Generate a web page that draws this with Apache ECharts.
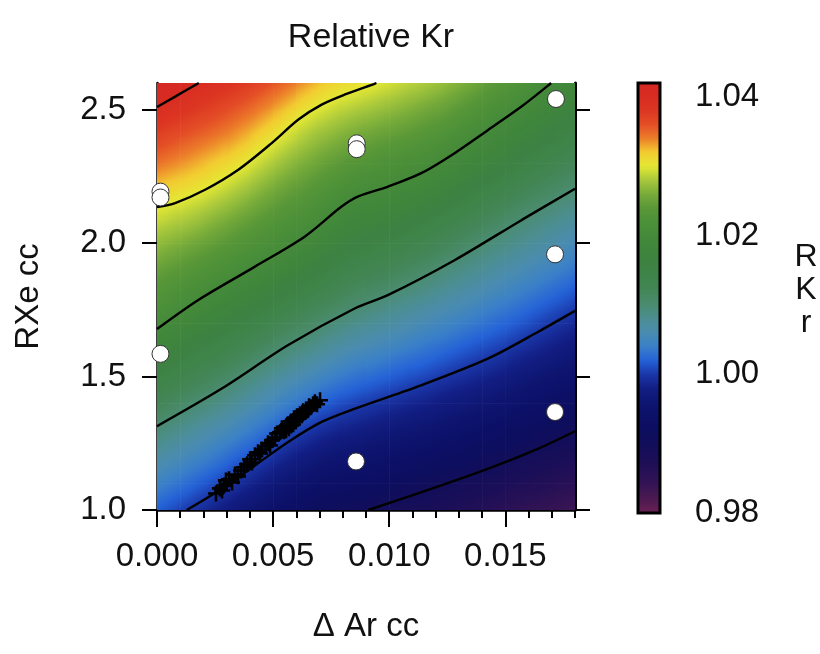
<!DOCTYPE html>
<html><head><meta charset="utf-8">
<script src="https://cdn.jsdelivr.net/npm/echarts@6.0.0/dist/echarts.min.js"></script>
<style>html,body{margin:0;padding:0;background:#fff}#c{width:820px;height:654px}</style>
</head><body><div id="c"></div>
<script>
// ---- axis ticks ----
const xTickValues = [0, 0.005, 0.010, 0.015];
const xMinorTickValues = [0,0.001,0.002,0.003,0.004,0.005,0.006,0.007,0.008,0.009,0.010,0.011,0.012,0.013,0.014,0.015,0.016,0.017,0.018];
const yTickValues = [1.0, 1.5, 2.0, 2.5];
const colorbarTicks = [0.98, 1.00, 1.02, 1.04];

// ---- field cells (centres; cell size 0.001 x 0.1) ----
const xCellCenters = [0.0005,0.0015,0.0025,0.0035,0.0045,0.0055,0.0065,0.0075,0.0085,0.0095,0.0105,0.0115,0.0125,0.0135,0.0145,0.0155,0.0165,0.0175];
const yCellCenters = [1.05,1.15,1.25,1.35,1.45,1.55,1.65,1.75,1.85,1.95,2.05,2.15,2.25,2.35,2.45,2.55];
// Relative Kr, one row per yCellCenters entry (bottom to top)
const rkrValues = [
 [1.0025,1.0011,0.9996,0.9980,0.9964,0.9947,0.9933,0.9921,0.9918,0.9910,0.9902,0.9895,0.9887,0.9880,0.9872,0.9863,0.9856,0.9849],
 [1.0051,1.0037,1.0023,1.0007,0.9991,0.9974,0.9960,0.9948,0.9943,0.9935,0.9927,0.9920,0.9912,0.9905,0.9897,0.9888,0.9880,0.9872],
 [1.0077,1.0063,1.0049,1.0034,1.0018,1.0001,0.9987,0.9975,0.9968,0.9960,0.9952,0.9945,0.9937,0.9929,0.9921,0.9912,0.9904,0.9895],
 [1.0103,1.0089,1.0076,1.0061,1.0045,1.0029,1.0014,1.0002,0.9993,0.9985,0.9977,0.9970,0.9962,0.9953,0.9945,0.9936,0.9927,0.9917],
 [1.0130,1.0116,1.0103,1.0088,1.0072,1.0056,1.0042,1.0029,1.0019,1.0011,1.0003,0.9995,0.9986,0.9978,0.9969,0.9959,0.9949,0.9939],
 [1.0157,1.0142,1.0129,1.0115,1.0099,1.0084,1.0070,1.0057,1.0045,1.0037,1.0028,1.0020,1.0011,1.0002,0.9993,0.9982,0.9972,0.9962],
 [1.0184,1.0168,1.0155,1.0141,1.0126,1.0111,1.0098,1.0084,1.0072,1.0063,1.0054,1.0044,1.0035,1.0025,1.0016,1.0006,0.9995,0.9984],
 [1.0210,1.0195,1.0181,1.0167,1.0153,1.0138,1.0124,1.0111,1.0099,1.0089,1.0079,1.0069,1.0059,1.0049,1.0038,1.0028,1.0017,1.0006],
 [1.0232,1.0220,1.0207,1.0194,1.0179,1.0165,1.0151,1.0136,1.0123,1.0115,1.0105,1.0094,1.0083,1.0072,1.0061,1.0050,1.0039,1.0028],
 [1.0255,1.0244,1.0232,1.0219,1.0206,1.0192,1.0178,1.0161,1.0147,1.0139,1.0130,1.0119,1.0107,1.0095,1.0083,1.0072,1.0061,1.0050],
 [1.0278,1.0269,1.0257,1.0244,1.0230,1.0216,1.0204,1.0186,1.0172,1.0164,1.0155,1.0144,1.0132,1.0119,1.0106,1.0094,1.0083,1.0072],
 [1.0301,1.0293,1.0282,1.0269,1.0254,1.0239,1.0226,1.0210,1.0196,1.0188,1.0180,1.0170,1.0157,1.0144,1.0130,1.0117,1.0105,1.0094],
 [1.0327,1.0318,1.0307,1.0294,1.0278,1.0262,1.0248,1.0234,1.0221,1.0213,1.0205,1.0195,1.0182,1.0168,1.0155,1.0141,1.0128,1.0116],
 [1.0353,1.0342,1.0331,1.0319,1.0302,1.0285,1.0270,1.0257,1.0246,1.0237,1.0229,1.0220,1.0208,1.0193,1.0179,1.0165,1.0151,1.0138],
 [1.0378,1.0367,1.0356,1.0343,1.0327,1.0309,1.0292,1.0280,1.0270,1.0262,1.0254,1.0244,1.0233,1.0218,1.0203,1.0188,1.0173,1.0160],
 [1.0404,1.0391,1.0380,1.0368,1.0353,1.0336,1.0318,1.0304,1.0295,1.0287,1.0278,1.0269,1.0258,1.0244,1.0228,1.0213,1.0196,1.0181]
];

// ---- contour lines [ΔAr, RXe] ----
const contour099 = [[0.0091,1.0],[0.0114,1.067],[0.01427,1.155],[0.01642,1.230],[0.018,1.295]];
const contour100 = [[0.00128,1.0],[0.00279,1.080],[0.00422,1.167],[0.00565,1.255],[0.00709,1.330],[0.00853,1.380],[0.0114,1.468],[0.01427,1.568],[0.01642,1.668],[0.018,1.746]];
const contour101 = [[0,1.314],[0.00279,1.455],[0.00565,1.618],[0.00853,1.756],[0.00996,1.806],[0.01283,1.937],[0.01571,2.087],[0.018,2.204]];
const contour102 = [[0,1.678],[0.00178,1.787],[0.00422,1.912],[0.00637,2.025],[0.00795,2.137],[0.00867,2.175],[0.00996,2.212],[0.0114,2.263],[0.01283,2.338],[0.01427,2.425],[0.01571,2.513],[0.01685,2.591],[0.01697,2.6]];
const contour103 = [[0,2.135],[0.00078,2.150],[0.00207,2.200],[0.0035,2.275],[0.00494,2.375],[0.00609,2.463],[0.00709,2.519],[0.0081,2.557],[0.00939,2.598],[0.00945,2.6]];
const contour104 = [[0,2.51],[0.0008,2.55],[0.0018,2.6]];

// ---- sample points (white circles) ----
const sampleAr = [0.01718, 0.00860, 0.00860, 0.00015, 0.00015, 0.00015, 0.01714, 0.01714, 0.00857];
const sampleXe = [2.540, 2.374, 2.352, 2.193, 2.171, 1.585, 1.958, 1.367, 1.182];

// ---- measured points (crosses) ----
const crossAr = [0.00254,0.00271,0.00289,0.00310,0.00323,0.00336,0.00349,0.00362,0.00375,0.00388,0.00401,0.00409,0.00422,0.00435,0.00452,0.00469,0.00478,0.00495,0.00508,0.00517,0.00530,0.00538,0.00547,0.00556,0.00564,0.00568,0.00577,0.00586,0.00590,0.00599,0.00603,0.00612,0.00616,0.00624,0.00629,0.00637,0.00642,0.00650,0.00655,0.00663,0.00672,0.00680,0.00689,0.00702,0.00556,0.00577,0.00487,0.00444,0.00297,0.00280];
const crossXe = [1.062,1.081,1.092,1.115,1.103,1.133,1.126,1.148,1.160,1.171,1.190,1.178,1.205,1.216,1.227,1.238,1.250,1.261,1.272,1.287,1.291,1.306,1.295,1.314,1.321,1.306,1.332,1.321,1.344,1.336,1.351,1.344,1.359,1.355,1.370,1.366,1.377,1.374,1.389,1.385,1.396,1.404,1.396,1.411,1.299,1.317,1.242,1.212,1.111,1.073];

// ---- colour ramp 0.980 .. 1.042 (step 0.002) ----
const rampMin = 0.98, rampMax = 1.042;
const rampColors = ['#6a2052','#4c1a52','#361454','#261056','#1a0e58','#120e5a','#0c0e60','#0c1068','#0e1672','#121e84',
 '#1a36a8','#2462d8','#3a80c8','#4a8cb0','#4c8e92','#4a8c70','#448658','#3f844a','#3d8242','#3f863c',
 '#458a3a','#4c9038','#5a9838','#78ac3a','#a8c83c','#e4e834','#f2cc30','#ec7e2a','#e44e26','#dc3622','#d82c22','#d42822'];

const FONT = 'Liberation Sans';
const TXT = '#111';

function colorOf(v) {
  const t = Math.min(1, Math.max(0, (v - rampMin) / (rampMax - rampMin)));
  return echarts.color.lerp(t, rampColors);
}

// cell data: [x, y, value, change per cell in x, change per cell in y]
const nR = rkrValues.length, nC = rkrValues[0].length;
const fieldData = [];
for (let j = 0; j < nR; j++) {
  for (let i = 0; i < nC; i++) {
    const row = rkrValues[j];
    const gx = i === 0 ? row[1] - row[0] : i === nC - 1 ? row[nC - 1] - row[nC - 2] : (row[i + 1] - row[i - 1]) / 2;
    const gy = j === 0 ? rkrValues[1][i] - rkrValues[0][i] : j === nR - 1 ? rkrValues[nR - 1][i] - rkrValues[nR - 2][i] : (rkrValues[j + 1][i] - rkrValues[j - 1][i]) / 2;
    fieldData.push([xCellCenters[i], yCellCenters[j], row[i], gx, gy]);
  }
}
const halfW = 0.0005, halfH = 0.05;

function renderCell(params, api) {
  const xc = api.value(0), yc = api.value(1), v = api.value(2), gx = api.value(3), gy = api.value(4);
  const a = api.coord([xc - halfW, yc + halfH]);
  const b = api.coord([xc + halfW, yc - halfH]);
  const W = b[0] - a[0], H = b[1] - a[1];
  const cx = (a[0] + b[0]) / 2, cy = (a[1] + b[1]) / 2;
  const vx = gx / W, vy = -gy / H;
  const mag = Math.hypot(vx, vy);
  let fill;
  if (mag < 1e-12) {
    fill = colorOf(v);
  } else {
    const ux = vx / mag, uy = vy / mag;
    const t = (Math.abs(ux) * W + Math.abs(uy) * H) / 2;
    const stops = [];
    for (let k = 0; k <= 6; k++) {
      const f = k / 6;
      stops.push({ offset: f, color: colorOf(v + mag * (-t + 2 * t * f)) });
    }
    fill = new echarts.graphic.LinearGradient(cx - ux * t, cy - uy * t, cx + ux * t, cy + uy * t, stops, true);
  }
  return { type: 'rect', shape: { x: a[0], y: a[1], width: W + 0.6, height: H + 0.6 }, style: { fill: fill } };
}

const lineSeries = [contour099, contour100, contour101, contour102, contour103, contour104].map(c => ({
  type: 'line', xAxisIndex: 0, yAxisIndex: 0, data: c, symbol: 'none', smooth: 0.3,
  lineStyle: { color: '#000', width: 2.4 }, z: 3, silent: true
}));

const tickStyle = { color: '#000', width: 2 };
const chart = echarts.init(document.getElementById('c'), null, { renderer: 'canvas' });
chart.setOption({
  animation: false,
  backgroundColor: '#fff',
  title: { text: 'Relative Kr', left: 366, top: 16, textAlign: 'center',
    textStyle: { fontFamily: FONT, fontSize: 34, fontWeight: 'normal', color: TXT } },
  grid: [
    { left: 157, top: 83, width: 418, height: 427 },
    { left: 638, top: 83, width: 22, height: 430, show: true, borderColor: '#000', borderWidth: 3, backgroundColor: 'transparent', z: 10 }
  ],
  xAxis: [
    { type: 'value', gridIndex: 0, min: 0, max: 0.018, position: 'bottom',
      axisLine: { show: true, onZero: false, lineStyle: { color: '#000', width: 2.5 } },
      axisTick: { customValues: xTickValues, length: 17, lineStyle: tickStyle },
      axisLabel: { customValues: xTickValues, formatter: v => v.toFixed(3), margin: 30, fontFamily: FONT, fontSize: 33, color: TXT },
      splitLine: { show: false },
      name: 'Δ Ar cc', nameLocation: 'middle', nameGap: 100,
      nameTextStyle: { fontFamily: FONT, fontSize: 33, color: TXT } },
    { type: 'value', gridIndex: 0, min: 0, max: 0.018, position: 'bottom',
      axisLine: { show: false }, axisTick: { customValues: xMinorTickValues, length: 8, lineStyle: tickStyle },
      axisLabel: { show: false }, splitLine: { show: false } },
    { type: 'value', gridIndex: 1, min: 0, max: 1, show: false }
  ],
  yAxis: [
    { type: 'value', gridIndex: 0, min: 1.0, max: 2.6, position: 'left',
      axisLine: { show: true, onZero: false, lineStyle: { color: '#000', width: 2.5 } },
      axisTick: { customValues: yTickValues, length: 15, lineStyle: tickStyle },
      axisLabel: { customValues: yTickValues, formatter: v => v.toFixed(1), margin: 31, fontFamily: FONT, fontSize: 33, color: TXT },
      splitLine: { show: false },
      name: 'RXe cc', nameLocation: 'middle', nameGap: 112,
      nameTextStyle: { fontFamily: FONT, fontSize: 33, color: TXT } },
    { type: 'value', gridIndex: 0, min: 1.0, max: 2.6, position: 'right',
      axisLine: { show: true, onZero: false, lineStyle: { color: '#000', width: 3 } },
      axisTick: { customValues: yTickValues, length: 15, lineStyle: tickStyle },
      axisLabel: { show: false }, splitLine: { show: false } },
    { type: 'value', gridIndex: 1, min: rampMin, max: rampMax, position: 'right',
      axisLine: { show: false },
      axisTick: { customValues: colorbarTicks, length: 16, lineStyle: tickStyle },
      axisLabel: { customValues: colorbarTicks, formatter: v => v.toFixed(2), margin: 35, fontFamily: FONT, fontSize: 33, color: TXT },
      splitLine: { show: false } }
  ],
  visualMap: {
    type: 'continuous', min: rampMin, max: rampMax, seriesIndex: 0, dimension: 2, orient: 'vertical',
    left: 638, top: 83, itemWidth: 22, itemHeight: 430, calculable: false, hoverLink: false,
    padding: 0, inRange: { color: rampColors }
  },
  graphic: [
    { type: 'text', x: 806, y: 290, style: { text: 'R\nK\nr', fontFamily: FONT, fontSize: 32, lineHeight: 33, fill: TXT, align: 'center', verticalAlign: 'middle' } }
  ],
  series: [
    { type: 'custom', xAxisIndex: 0, yAxisIndex: 0, data: fieldData, renderItem: renderCell, z: 1, silent: true, clip: true },
    ...lineSeries,
    { type: 'scatter', xAxisIndex: 0, yAxisIndex: 0, z: 4, silent: true,
      symbol: 'path://M4.2,0H5.8V4.2H10V5.8H5.8V10H4.2V5.8H0V4.2H4.2Z', symbolSize: 16,
      itemStyle: { color: '#000', opacity: 1 },
      data: crossAr.map((a, i) => [a, crossXe[i]]) },
    { type: 'scatter', xAxisIndex: 0, yAxisIndex: 0, z: 5, silent: true,
      symbol: 'circle', symbolSize: 17,
      itemStyle: { color: '#fff', borderColor: '#333', borderWidth: 1, opacity: 1 },
      data: sampleAr.map((a, i) => [a, sampleXe[i]]) }
  ]
});
</script>
</body></html>
